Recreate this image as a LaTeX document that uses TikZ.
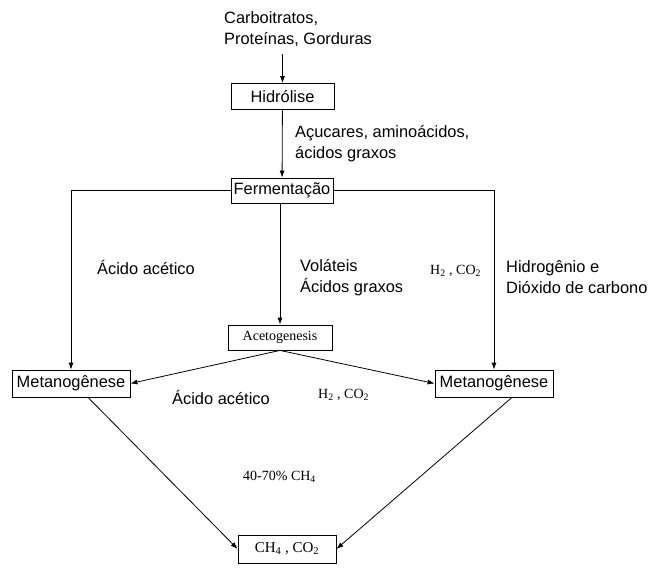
\documentclass[tikz,border=0pt]{standalone}
\usepackage{fontspec}
\setmainfont{Liberation Sans}
\newfontfamily\timesfont{Liberation Serif}
\usetikzlibrary{arrows.meta}

\begin{document}
\begin{tikzpicture}[x=1pt,y=-1pt,
  every node/.style={font=\fontsize{16.4}{21}\selectfont},
  box/.style={draw,line width=0.8pt,minimum height=26,inner xsep=1,inner ysep=0},
  lbl/.style={align=left,anchor=west,inner sep=0},
  chem/.style={font=\timesfont\fontsize{14}{16}\selectfont,inner sep=0,anchor=west},
  arr/.style={-{Latex[length=7,width=5]},line width=0.8pt}]
  \useasboundingbox (0,0) rectangle (649,574);
  % stages
  \node[lbl] (src) at (224,29) {Carboitratos,\\Proteínas, Gorduras};
  \node[box,minimum width=103] (hid) at (282.5,96.5) {Hidrólise};
  \node[box,minimum width=102,minimum height=25] (fer) at (282,190.5) {Fermentação};
  \node[box,minimum width=104,minimum height=25,font=\timesfont\fontsize{14}{16}\selectfont]
    (acet) at (280,337.5) {Acetogenesis};
  \node[box,minimum width=118,minimum height=27] (ml) at (71,383.5) {Metanogênese};
  \node[box,minimum width=118,minimum height=27] (mr) at (494,383.5) {Metanogênese};
  \node[box,minimum width=98,minimum height=28,font=\timesfont\fontsize{15}{17}\selectfont]
    (gas) at (287,549) {CH\textsubscript{4} , CO\textsubscript{2}};
  % connectors
  \draw[arr] ([yshift=-7]hid |- src.south) -- (hid.north);
  \draw[arr] (hid) -- (fer);
  \draw[arr] (fer.west) -| (ml.north);
  \draw[arr] (fer.east) -| (mr.north);
  \draw[arr] (acet |- fer.south) -- (acet.north);
  \draw[arr] (acet.south) -- (ml.east);
  \draw[arr] (acet.south) -- (mr.west);
  \draw[arr] ([xshift=17]ml.south) -- (gas.west);
  \draw[arr] ([xshift=18]mr.south) -- (gas.east);
  % products
  \node[lbl] (l1) at (295,144) {Açucares, aminoácidos,\\ácidos graxos};
  \node[lbl] (l2) at (97,267) {Ácido acético};
  \node[lbl] (l3) at (300,278) {Voláteis\\Ácidos graxos};
  \node[chem] (l4) at (430,271) {H\textsubscript{2} , CO\textsubscript{2}};
  \node[lbl] (l5) at (506,277) {Hidrogênio e\\Dióxido de carbono};
  \node[lbl] (l6) at (172,397) {Ácido acético};
  \node[chem] (l7) at (318,395) {H\textsubscript{2} , CO\textsubscript{2}};
  \node[chem] (l8) at (243,477) {40-70\% CH\textsubscript{4}};
\end{tikzpicture}
\end{document}
